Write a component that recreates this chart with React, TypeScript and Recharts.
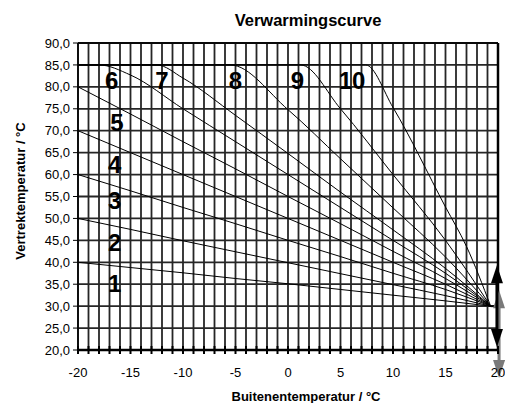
import { LineChart, Line, XAxis, YAxis, CartesianGrid, ReferenceLine, ReferenceDot } from 'recharts'

const FONT = 'Arial, "Liberation Sans", sans-serif'

const X_TICKS = [
  -20, -19, -18, -17, -16, -15, -14, -13, -12, -11, -10, -9, -8, -7, -6, -5, -4, -3, -2, -1,
  0, 1, 2, 3, 4, 5, 6, 7, 8, 9, 10, 11, 12, 13, 14, 15, 16, 17, 18, 19, 20,
]
const Y_TICKS = [20, 25, 30, 35, 40, 45, 50, 55, 60, 65, 70, 75, 80, 85, 90]

// stooklijnen 1-5 (recht)
const BASE_T = [-20, -15, -10, -5, 0, 5, 10, 15, 19.3]
const C1_V = [40, 38.8, 37.6, 36.3, 35.1, 33.8, 32.5, 31.2, 30]
const C2_V = [50, 47.5, 44.9, 42.4, 39.9, 37.4, 34.9, 32.4, 30]
const C3_V = [60, 56.3, 52.5, 48.8, 45, 41.3, 37.5, 33.8, 30]
const C4_V = [70, 65, 60, 55, 50, 45, 40, 35, 30]
const C5_V = [80, 73.8, 67.5, 61.3, 55, 48.8, 42.5, 36.3, 30]

// stooklijnen 6-10 (begrensd op 85)
const C6_T = [-20, -18, -15, -10, -5, 0, 5, 10, 15, 19.3]
const C6_V = [85, 85, 82.7, 75, 67.5, 60, 52.5, 45, 37.5, 30]
const C7_T = [-20, -12.5, -10, -5, 0, 5, 10, 15, 19.3]
const C7_V = [85, 85, 82, 73.5, 64.8, 56, 47.4, 38.6, 30]
const C8_T = [-20, -5.5, 0, 5, 10, 15, 19.3]
const C8_V = [85, 85, 74.8, 63.6, 52.4, 41.2, 30]
const C9_T = [-20, 1.2, 5, 10, 15, 19.3]
const C9_V = [85, 85, 75, 60, 45, 30]
const C10_T = [-20, 7.4, 10, 15, 17, 19.3]
const C10_V = [85, 85, 75.3, 52.6, 43.6, 30]

const LABEL_NAMES = ['1', '2', '3', '4', '5', '6', '7', '8', '9', '10']
const LABEL_T = [-16.5, -16.5, -16.5, -16.5, -16.3, -16.8, -12, -5, 0.9, 6.1]
const LABEL_V = [35.1, 44.4, 54, 62.2, 71.8, 81.4, 81.4, 81.4, 81.4, 81.4]

const pts = (ts: number[], vs: number[]) => ts.map((t, i) => ({ t, v: vs[i] }))

const curves = [
  pts(BASE_T, C1_V),
  pts(BASE_T, C2_V),
  pts(BASE_T, C3_V),
  pts(BASE_T, C4_V),
  pts(BASE_T, C5_V),
  pts(C6_T, C6_V),
  pts(C7_T, C7_V),
  pts(C8_T, C8_V),
  pts(C9_T, C9_V),
  pts(C10_T, C10_V),
]

const fmtY = (v: number) => v.toFixed(1).replace('.', ',')

const XTick = (props: any) => {
  const { x, y, payload } = props
  const v = payload.value
  return (
    <g>
      <line x1={x} x2={x} y1={y - 4} y2={y + 4} stroke="#000" strokeWidth={2} />
      {v % 5 === 0 && (
        <text x={x} y={y + 27} textAnchor="middle" fontSize={13} fontFamily={FONT} fill="#000">
          {v}
        </text>
      )}
    </g>
  )
}

const arrow = (color: string) => (props: any) => {
  const { x1, y1, y2 } = props
  const top = Math.min(y1, y2)
  const bot = Math.max(y1, y2)
  return (
    <g fill={color}>
      <rect x={x1 - 1.5} y={top + 10} width={3} height={bot - top - 20} />
      <polygon points={`${x1},${top} ${x1 - 6},${top + 18} ${x1 + 6},${top + 18}`} />
      <polygon points={`${x1},${bot} ${x1 - 6},${bot - 18} ${x1 + 6},${bot - 18}`} />
    </g>
  )
}

const curveLabel = (text: string) => (props: any) => (
  <text
    x={props.cx}
    y={props.cy + 8.5}
    textAnchor="middle"
    fontSize={24}
    fontWeight="bold"
    fontFamily={FONT}
    fill="#000"
  >
    {text}
  </text>
)

export default function App() {
  return (
    <div style={{ position: 'absolute', left: 0, top: 0, width: 505, height: 403, fontFamily: FONT }}>
      <div
        style={{
          position: 'absolute', left: 308, top: 20, transform: 'translate(-50%, -50%)',
          fontSize: 16.5, fontWeight: 'bold', whiteSpace: 'nowrap',
        }}
      >
        Verwarmingscurve
      </div>
      <div
        style={{
          position: 'absolute', left: 306, top: 396, transform: 'translate(-50%, -50%)',
          fontSize: 13, fontWeight: 'bold', whiteSpace: 'nowrap',
        }}
      >
        Buitenentemperatur / °C
      </div>
      <div
        style={{
          position: 'absolute', left: 20, top: 191, transform: 'translate(-50%, -50%) rotate(-90deg)',
          fontSize: 13, fontWeight: 'bold', whiteSpace: 'nowrap',
        }}
      >
        Vertrektemperatur / °C
      </div>
      <LineChart width={505} height={403} margin={{ top: 43, right: 7, bottom: 0, left: 0 }}>
        <CartesianGrid stroke="#262626" strokeWidth={1.8} />
        <XAxis
          type="number"
          dataKey="t"
          domain={[-20, 20]}
          ticks={X_TICKS}
          interval={0}
          allowDataOverflow
          height={53}
          tickSize={0}
          tickMargin={0}
          tickLine={false}
          axisLine={{ stroke: '#000', strokeWidth: 2.5 }}
          tick={<XTick />}
        />
        <YAxis
          type="number"
          domain={[20, 90]}
          ticks={Y_TICKS}
          interval={0}
          allowDataOverflow
          width={78}
          tickSize={5}
          tickMargin={3}
          tickFormatter={fmtY}
          tickLine={{ stroke: '#000' }}
          axisLine={{ stroke: '#000', strokeWidth: 1.5 }}
          tick={{ fill: '#000', fontSize: 13, fontFamily: FONT }}
        />
        <ReferenceLine y={90} stroke="#000" strokeWidth={1.5} />
        <ReferenceLine x={20} stroke="#000" strokeWidth={2.5} />
        {curves.map((d, i) => (
          <Line
            key={i}
            data={d}
            dataKey="v"
            type="monotone"
            stroke="#000"
            strokeWidth={1}
            dot={false}
            isAnimationActive={false}
          />
        ))}
        <ReferenceLine segment={[{ x: 19.3, y: 30 }, { x: 20, y: 30 }]} stroke="#000" strokeWidth={2} />
        <ReferenceLine
          segment={[{ x: 20.1, y: 13.6 }, { x: 20.1, y: 33.6 }]}
          ifOverflow="visible"
          shape={arrow('#7a7a7a')}
        />
        <ReferenceLine
          segment={[{ x: 19.9, y: 20.7 }, { x: 19.9, y: 39.3 }]}
          ifOverflow="visible"
          shape={arrow('#000')}
        />
        {LABEL_NAMES.map((name, i) => (
          <ReferenceDot key={name} x={LABEL_T[i]} y={LABEL_V[i]} r={0} shape={curveLabel(name)} />
        ))}
      </LineChart>
    </div>
  )
}
